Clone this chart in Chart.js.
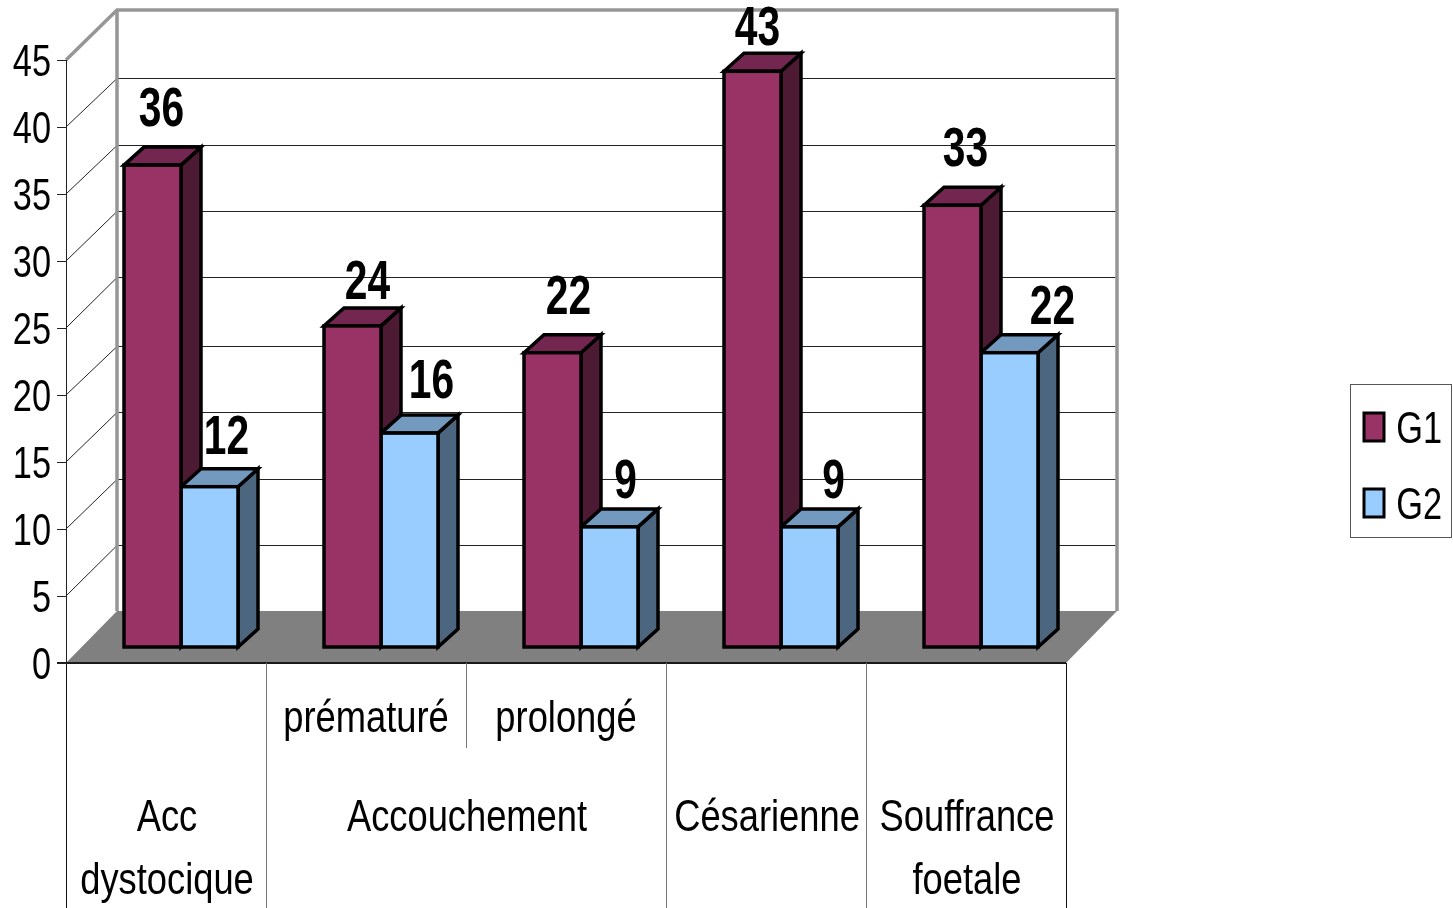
<!DOCTYPE html>
<html>
<head>
<meta charset="utf-8">
<style>
html, body { margin: 0; padding: 0; background: #fff; }
canvas { display: block; }
</style>
<script src="https://cdn.jsdelivr.net/npm/chart.js@4/dist/chart.umd.min.js"></script>
</head>
<body>
<canvas id="chart" width="1453" height="908"></canvas>
<script>
// Sub-level labels of the category axis, one per column group
const subLabels = ['', 'prématuré', 'prolongé', '', ''];

// Upper-level groups: text lines and the columns each one spans
const groupLines = [['Acc', 'dystocique'], ['Accouchement'], ['Césarienne'], ['Souffrance', 'foetale']];
const groupFirst = [0, 1, 3, 4];
const groupLast = [0, 2, 3, 4];

// Series values
const g1Values = [36, 24, 22, 43, 33];
const g2Values = [12, 16, 9, 9, 22];

// Value axis
const valueMin = 0;
const valueMax = 45;
const valueStep = 5;

// Hand-placed offsets of the value captions, relative to the column top
const g1LabelDx = [9, 15, 16, 5, 13];
const g1LabelGap = [39, 27, 39, 26, 39];
const g2LabelDx = [17, 22, 16, 24, 43];
const g2LabelGap = [33, 35, 29, 29, 29];

// Drawing constants for the box and the column extrusion
const FONT = '"Liberation Sans", Arial, sans-serif';
const BOX = { dx: 51, floorY: 611, topY: 10, gridScale: 0.988, stepAt: 25, step: 3 };
const BAR = { shiftX: 15, shiftY: -15.5, dx: 20, dy: -18, stroke: 3.5 };
const KEY = { left: 1350, top: 384, right: 1452, bottom: 538, pad: 32, swatchX: 1364, firstY: 405, textRight: 1442 };
const TEXT = { digits: 0.78, words: 0.825, caption: 0.74, middleDrop: 4 };
const faces = [
  { top: '#732650', side: '#4D1A33' },
  { top: '#7399BF', side: '#4D6680' }
];

function backY(scale, v) {
  const y = BOX.floorY + (scale.getPixelForValue(v) - scale.getPixelForValue(0)) * BOX.gridScale;
  return v >= BOX.stepAt ? y - BOX.step : y;
}

function line(ctx, x1, y1, x2, y2) {
  ctx.beginPath();
  ctx.moveTo(x1, y1);
  ctx.lineTo(x2, y2);
  ctx.stroke();
}

function poly(ctx, pts, fill) {
  ctx.beginPath();
  pts.forEach((p, i) => (i ? ctx.lineTo(p[0], p[1]) : ctx.moveTo(p[0], p[1])));
  ctx.closePath();
  ctx.fillStyle = fill;
  ctx.fill();
  ctx.stroke();
}

// All chart text is set condensed; no narrow face is installed, so the width is squeezed on draw
function condenseText(ctx) {
  const fill = ctx.fillText;
  ctx.fillText = function (text, x, y, maxWidth) {
    const width = this.measureText(text).width;
    const squeeze = this.font.indexOf('bold') >= 0 ? TEXT.caption
      : /^[\dG]/.test(text) ? TEXT.digits : TEXT.words;
    const drop = this.textBaseline === 'middle' ? TEXT.middleDrop : 0;
    fill.call(this, text, x, y + drop, maxWidth === undefined ? width * squeeze : maxWidth);
  };
}

// Depth faces of one series, behind the front rectangles
function drawFaces(chart, index) {
  const { ctx } = chart;
  const face = faces[index];
  ctx.save();
  ctx.strokeStyle = '#000';
  ctx.lineWidth = BAR.stroke;
  ctx.lineJoin = 'miter';
  chart.getDatasetMeta(index).data.forEach(bar => {
    const { x, y, base, width } = bar.getProps(['x', 'y', 'base', 'width'], true);
    const l = x - width / 2;
    const r = x + width / 2;
    poly(ctx, [[r, y], [r + BAR.dx, y + BAR.dy], [r + BAR.dx, base + BAR.dy], [r, base]], face.side);
    poly(ctx, [[l, y], [l + BAR.dx, y + BAR.dy], [r + BAR.dx, y + BAR.dy], [r, y]], face.top);
  });
  ctx.restore();
}

// Back wall, side wall, floor, column extrusion and the text around them
const boxPlugin = {
  id: 'box',
  beforeDraw(chart) {
    const { ctx, chartArea: a, scales: { x, y } } = chart;
    const backL = a.left + BOX.dx;
    const backR = a.right + BOX.dx;
    ctx.save();

    ctx.strokeStyle = '#222';
    ctx.lineWidth = 1;
    for (let v = valueMin + valueStep; v < valueMax; v += valueStep) {
      const by = Math.round(backY(y, v)) + 0.5;
      line(ctx, a.left, y.getPixelForValue(v), backL, by);
      line(ctx, backL, by, backR, by);
    }

    ctx.strokeStyle = '#969696';
    ctx.lineWidth = 3.5;
    ctx.lineJoin = 'miter';
    ctx.beginPath();
    ctx.moveTo(a.left, a.top);
    ctx.lineTo(backL, BOX.topY);
    ctx.lineTo(backR, BOX.topY);
    ctx.lineTo(backR, BOX.floorY);
    ctx.stroke();
    line(ctx, backL, BOX.topY, backL, BOX.floorY);

    ctx.fillStyle = '#808080';
    ctx.beginPath();
    ctx.moveTo(a.left, a.bottom);
    ctx.lineTo(backL, BOX.floorY);
    ctx.lineTo(backR, BOX.floorY);
    ctx.lineTo(a.right, a.bottom);
    ctx.closePath();
    ctx.fill();

    ctx.strokeStyle = '#1a1a1a';
    ctx.lineWidth = 2;
    line(ctx, a.left - 9, a.bottom, a.right, a.bottom);

    // Group separators run the full height, the inner one stops at the sub-level
    const half = (x.getPixelForTick(1) - x.getPixelForTick(0)) / 2;
    const bottom = chart.height;
    ctx.lineWidth = 1;
    subLabels.forEach((_, i) => {
      const edge = Math.round(x.getPixelForTick(i) - half) + 0.5;
      ctx.strokeStyle = i === 0 ? '#111' : '#777';
      const inner = groupFirst.indexOf(i) < 0;
      line(ctx, edge, a.bottom, edge, inner ? 748 : bottom);
    });
    const last = Math.round(a.right) + 0.5;
    ctx.strokeStyle = '#111';
    line(ctx, last, a.bottom, last, bottom);
    ctx.restore();
  },
  beforeDatasetsDraw(chart) {
    chart.ctx.save();
    chart.ctx.translate(BAR.shiftX, BAR.shiftY);
    drawFaces(chart, 0);
    drawFaces(chart, 1);
  },
  afterDatasetDraw(chart, args) {
    const { ctx } = chart;
    ctx.save();
    ctx.strokeStyle = '#000';
    ctx.lineWidth = BAR.stroke;
    chart.getDatasetMeta(args.index).data.forEach(bar => {
      const { x, y, base, width } = bar.getProps(['x', 'y', 'base', 'width'], true);
      ctx.strokeRect(x - width / 2, y, width, base - y);
    });
    ctx.restore();
  },
  afterDatasetsDraw(chart) {
    const { ctx, scales: { x } } = chart;
    ctx.restore();
    ctx.save();
    ctx.fillStyle = '#000';
    ctx.textAlign = 'center';
    ctx.textBaseline = 'alphabetic';

    // Value captions above the columns
    ctx.font = 'bold 55px ' + FONT;
    const captions = [[g1Values, g1LabelDx, g1LabelGap], [g2Values, g2LabelDx, g2LabelGap]];
    captions.forEach(([values, dxs, gaps], d) => {
      chart.getDatasetMeta(d).data.forEach((bar, i) => {
        ctx.fillText(String(values[i]), bar.x + BAR.shiftX + dxs[i], bar.y + BAR.shiftY - gaps[i]);
      });
    });

    // Upper level of the category axis
    ctx.font = '44px ' + FONT;
    ctx.textBaseline = 'middle';
    groupLines.forEach((lines, g) => {
      const cx = (x.getPixelForTick(groupFirst[g]) + x.getPixelForTick(groupLast[g])) / 2 + 1;
      lines.forEach((text, n) => ctx.fillText(text, cx, 815 + n * 63));
    });
    ctx.restore();
  },
  afterLayout(chart) {
    // The key sits outside the plot, to the right of the box
    const lg = chart.legend;
    lg.left = KEY.swatchX - KEY.pad;
    lg.right = KEY.textRight;
    lg.top = KEY.firstY - KEY.pad;
    lg.bottom = KEY.bottom + KEY.pad * 2;
    lg.width = lg.right - lg.left;
    lg.height = lg.bottom - lg.top;
  },
  afterDraw(chart) {
    const { ctx } = chart;
    ctx.save();
    ctx.strokeStyle = '#555';
    ctx.lineWidth = 1;
    ctx.strokeRect(KEY.left + 0.5, KEY.top + 0.5, KEY.right - KEY.left - 1, KEY.bottom - KEY.top - 1);
    ctx.restore();
  }
};

const canvas = document.getElementById('chart');
condenseText(canvas.getContext('2d'));

new Chart(canvas, {
  type: 'bar',
  plugins: [boxPlugin],
  data: {
    labels: subLabels,
    datasets: [
      { label: 'G1', data: g1Values, backgroundColor: '#993366', borderWidth: 0, clip: false },
      { label: 'G2', data: g2Values, backgroundColor: '#99CCFF', borderWidth: 0, clip: false }
    ]
  },
  options: {
    responsive: false,
    animation: false,
    layout: { padding: { left: 0, top: 60, right: 387, bottom: 0 } },
    datasets: { bar: { categoryPercentage: 0.57, barPercentage: 1 } },
    scales: {
      x: {
        grid: { display: false },
        border: { display: false },
        ticks: {
          color: '#000',
          font: { family: FONT, size: 44 },
          padding: 18,
          autoSkip: false,
          maxRotation: 0
        },
        afterFit(s) { s.height = 245; }
      },
      y: {
        min: valueMin,
        max: valueMax,
        grid: { drawOnChartArea: false, color: '#222', tickLength: 9 },
        border: { color: '#222', width: 1 },
        ticks: {
          stepSize: valueStep,
          color: '#000',
          font: { family: FONT, size: 44 },
          padding: 6
        },
        afterFit(s) { s.width = 66; }
      }
    },
    plugins: {
      tooltip: { enabled: false },
      legend: {
        position: 'chartArea',
        align: 'start',
        labels: {
          color: '#000',
          font: { family: FONT, size: 44 },
          boxWidth: 20,
          boxHeight: 28,
          padding: KEY.pad,
          generateLabels(chart) {
            return Chart.defaults.plugins.legend.labels.generateLabels(chart).map(item => ({
              ...item,
              textAlign: 'right',
              strokeStyle: '#000',
              lineWidth: 3
            }));
          }
        }
      }
    }
  }
});
</script>
</body>
</html>
